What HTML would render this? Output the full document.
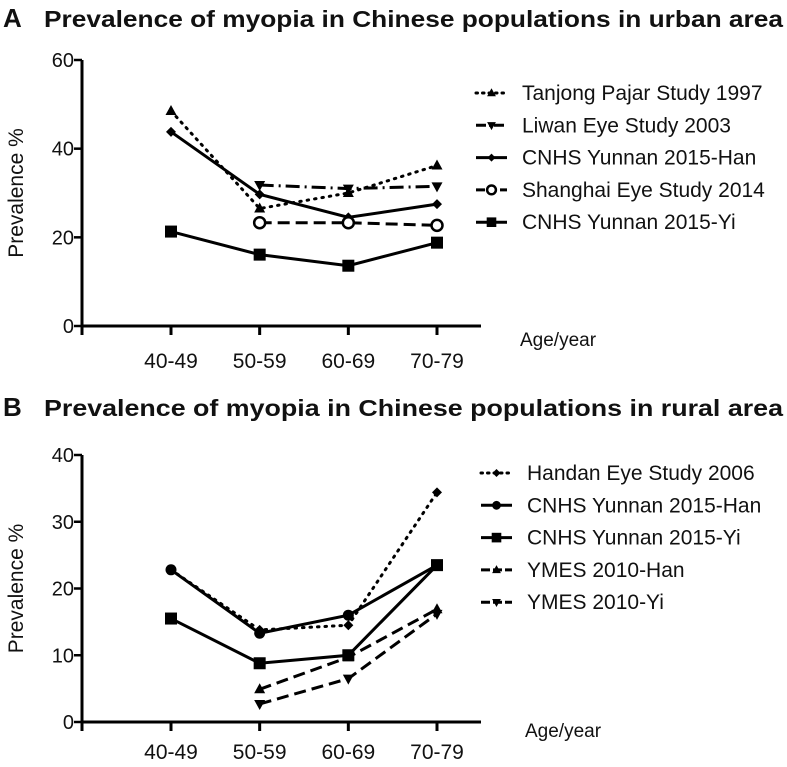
<!DOCTYPE html>
<html><head><meta charset="utf-8"><style>
body{margin:0;background:#fff;width:787px;height:762px;overflow:hidden}
svg text{font-family:"Liberation Sans",Arial,sans-serif;fill:#111}
</style></head><body>
<svg id="chart" width="787" height="762" xmlns="http://www.w3.org/2000/svg"></svg>
<script>
const categories=["40-49","50-59","60-69","70-79"];
const urbanNames=["Tanjong Pajar Study 1997","Liwan Eye Study 2003","CNHS Yunnan 2015-Han","Shanghai Eye Study  2014","CNHS Yunnan 2015-Yi"];
const urbanTanjong=[48.5,26.5,30,36.2];
const urbanLiwan=[null,31.8,31,31.5];
const urbanHan=[43.8,29.7,24.5,27.5];
const urbanShanghai=[null,23.3,23.3,22.7];
const urbanYi=[21.3,16.1,13.6,18.8];
const urbanTicks=[0,20,40,60];
const ruralNames=["Handan Eye Study 2006","CNHS Yunnan 2015-Han","CNHS Yunnan 2015-Yi","YMES 2010-Han","YMES 2010-Yi"];
const ruralHandan=[22.8,13.8,14.5,34.4];
const ruralHan=[22.8,13.3,16.0,23.5];
const ruralYi=[15.5,8.8,10.0,23.5];
const ruralYmesHan=[null,4.9,9.7,16.9];
const ruralYmesYi=[null,2.7,6.5,16.2];
const ruralTicks=[0,10,20,30,40];

const NS="http://www.w3.org/2000/svg";
const svg=document.getElementById('chart');
function mk(tag,attrs,parent){const e=document.createElementNS(NS,tag);for(const k in attrs)e.setAttribute(k,attrs[k]);(parent||svg).appendChild(e);return e;}
const xPos=[171,260,348,437];
function xScale(i){return xPos[0]+i*(xPos[3]-xPos[0])/3;}

function marker(g,type,x,y,s){
  s=s||1;
  let e;
  if(type==='tri') e=mk('polygon',{points:`${x},${y-6*s} ${x-5.5*s},${y+4*s} ${x+5.5*s},${y+4*s}`,fill:'#000'},g);
  else if(type==='tridown') e=mk('polygon',{points:`${x},${y+6*s} ${x-5.5*s},${y-4*s} ${x+5.5*s},${y-4*s}`,fill:'#000'},g);
  else if(type==='diamond') e=mk('polygon',{points:`${x},${y-5*s} ${x+5*s},${y} ${x},${y+5*s} ${x-5*s},${y}`,fill:'#000'},g);
  else if(type==='circleOpen') e=mk('circle',{cx:x,cy:y,r:5.5*s,fill:'#fff',stroke:'#000','stroke-width':2.5},g);
  else if(type==='circle') e=mk('circle',{cx:x,cy:y,r:5.5*s,fill:'#000'},g);
  else e=mk('rect',{x:x-6*s,y:y-6*s,width:12*s,height:12*s,fill:'#000'},g);
  
  
}
const dashes={solid:'',dot:'1.5 6',dash:'12 6',dashdot:'14 5 2 5'};

function panel(opt){
  const {letter,title,titleY,top,bottom,max,ticks,series,legendY,legX,prefix,xLabOff,ageOff}=opt;
  const y=v=>bottom-(v/max)*(bottom-top);
  const g=mk('g',{});
  
  const L=mk('text',{x:3,y:titleY,'font-size':26,'font-weight':'bold'},g);L.textContent=letter;
  
  const T=mk('text',{x:44,y:titleY,'font-size':23,'font-weight':'bold',textLength:739,lengthAdjust:'spacingAndGlyphs'},g);T.textContent=title;
  
  const ax=mk('path',{d:`M82,${top} L82,${bottom} L481,${bottom}`,fill:'none',stroke:'#000','stroke-width':3},g);
  
  ticks.forEach(t=>{
    mk('line',{x1:74,x2:82,y1:y(t),y2:y(t),stroke:'#000','stroke-width':2.5},g);
    const tt=mk('text',{x:74,y:y(t)+7,'font-size':20,'text-anchor':'end'},g);tt.textContent=t;
    
  });
  mk('line',{x1:82,x2:82,y1:bottom,y2:bottom+9,stroke:'#000','stroke-width':3},g);
  categories.forEach((c,i)=>{
    mk('line',{x1:xScale(i),x2:xScale(i),y1:bottom,y2:bottom+9,stroke:'#000','stroke-width':3},g);
    const tt=mk('text',{x:xScale(i),y:bottom+xLabOff,'font-size':21,'text-anchor':'middle'},g);tt.textContent=c;
    
  });
  const yt=mk('text',{x:0,y:0,'font-size':21,'text-anchor':'middle',transform:`translate(23,${(top+bottom)/2}) rotate(-90)`},g);yt.textContent='Prevalence %';
  
  const xt=mk('text',{x:legX-2,y:bottom+ageOff,'font-size':19},g);xt.textContent='Age/year';
  
  series.forEach((s,si)=>{
    const sg=mk('g',{},g);
    
    let d='';s.vals.forEach((v,i)=>{if(v==null)return;d+=(d?'L':'M')+xScale(i)+','+y(v);});
    mk('path',{d,fill:'none',stroke:'#000','stroke-width':3,'stroke-dasharray':dashes[s.dash],'stroke-linecap':s.dash==='dot'?'round':'butt'},sg);
    s.vals.forEach((v,i)=>{if(v!=null)marker(sg,s.m,xScale(i),y(v));});
    const ly=legendY+si*32.3;
    const lg=mk('g',{},g);
    
    const lx=legX-46;
    mk('line',{x1:lx,x2:lx+31,y1:ly,y2:ly,stroke:'#000','stroke-width':3,'stroke-dasharray':s.dash==='solid'?'':(s.dash==='dot'?'1.5 5':(s.dash==='dash'?'9 3':'10 3 2 3')),'stroke-linecap':s.dash==='dot'?'round':'butt'},lg);
    marker(lg,s.m,lx+15.5,ly,0.8);
    const lt=mk('text',{x:legX,y:ly+7,'font-size':21},lg);lt.textContent=s.name;
  });
}
panel({letter:'A',prefix:'urban',title:'Prevalence of myopia in Chinese populations in urban area',titleY:27,top:60,bottom:326,max:60,ticks:urbanTicks,legendY:93,legX:522,xLabOff:42,ageOff:20,
 series:[{key:'tanjong',name:urbanNames[0],vals:urbanTanjong,dash:'dot',m:'tri'},
 {key:'liwan',name:urbanNames[1],vals:urbanLiwan,dash:'dashdot',m:'tridown'},
 {key:'han',name:urbanNames[2],vals:urbanHan,dash:'solid',m:'diamond'},
 {key:'shanghai',name:urbanNames[3],vals:urbanShanghai,dash:'dash',m:'circleOpen'},
 {key:'yi',name:urbanNames[4],vals:urbanYi,dash:'solid',m:'square'}]});
panel({letter:'B',prefix:'rural',title:'Prevalence of myopia in Chinese populations in rural area',titleY:416,top:455,bottom:722,max:40,ticks:ruralTicks,legendY:473,legX:527,xLabOff:37,ageOff:15,
 series:[{key:'handan',name:ruralNames[0],vals:ruralHandan,dash:'dot',m:'diamond'},
 {key:'han',name:ruralNames[1],vals:ruralHan,dash:'solid',m:'circle'},
 {key:'yi',name:ruralNames[2],vals:ruralYi,dash:'solid',m:'square'},
 {key:'ymes-han',name:ruralNames[3],vals:ruralYmesHan,dash:'dash',m:'tri'},
 {key:'ymes-yi',name:ruralNames[4],vals:ruralYmesYi,dash:'dash',m:'tridown'}]});
</script>
</body></html>
